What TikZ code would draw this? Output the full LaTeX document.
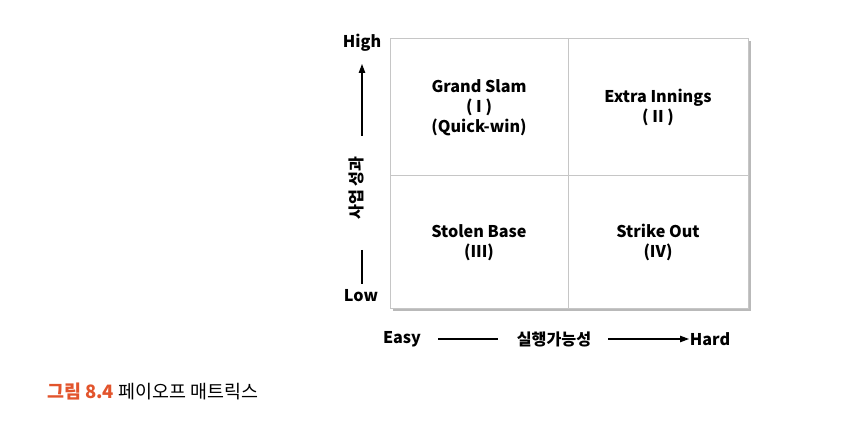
\documentclass[tikz,border=0pt]{standalone}
\usepackage{fontspec}
\setmainfont{Noto Sans CJK KR}
\usetikzlibrary{arrows.meta}
\definecolor{capred}{RGB}{226,84,44}

\begin{document}
\begin{tikzpicture}[x=0.02cm, y=-0.02cm,
    lbl/.style={font=\fontsize{9.2pt}{11.4pt}\selectfont\bfseries, inner sep=1pt},
    cell/.style={lbl, align=center},
    axline/.style={line width=0.6pt},
    axarrow/.style={axline, -{Triangle[length=5pt, width=3.6pt]}}]
        \useasboundingbox (0, 0) rectangle (862, 422);

        % Matrix
        \fill[gray!55] (393, 41) rectangle (751, 311);
        \filldraw[fill=white, draw=gray!45, line width=0.5pt] (390, 38) rectangle (748, 308);
        \draw[gray!45, line width=0.5pt] (568, 38) -- (568, 308);
        \draw[gray!45, line width=0.5pt] (390, 175) -- (748, 175);

        \node[cell] (q1) at (479, 108) {Grand Slam\\( I )\\(Quick-win)};
        \node[cell] (q2) at (658, 107) {Extra Innings\\( II )};
        \node[cell] (q3) at (479, 243) {Stolen Base\\(III)};
        \node[cell] (q4) at (658, 242) {Strike Out\\(IV)};

        % Vertical axis
        \node[lbl] (high) at (362, 43) {High};
        \node[lbl] (low) at (361, 296) {Low};
        \node[lbl, rotate=90] (impact) at (356, 188) {사업 성과};
        \coordinate (yup0) at (362, 136);
        \coordinate (yup1) at (362, 64);
        \coordinate (ydn0) at (362, 250);
        \coordinate (ydn1) at (362, 284);
        \draw[axarrow] (yup0) -- (yup1);
        \draw[axline] (ydn0) -- (ydn1);

        % Horizontal axis
        \node[lbl] (easy) at (402, 339) {Easy};
        \node[lbl] (feas) at (554, 339) {실행가능성};
        \node[lbl] (hard) at (710, 339) {Hard};
        \coordinate (xl0) at (438, 339);
        \coordinate (xl1) at (498, 339);
        \coordinate (xr0) at (608, 339);
        \coordinate (xr1) at (689, 339);
        \draw[axline] (xl0) -- (xl1);
        \draw[axarrow] (xr0) -- (xr1);

        % Caption
        \node[lbl, anchor=west, font=\fontsize{10.5pt}{12pt}\selectfont] (caption) at (45, 392) {\textcolor{capred}{\bfseries 그림 8.4} 페이오프 매트릭스};
    \end{tikzpicture}
\end{document}
